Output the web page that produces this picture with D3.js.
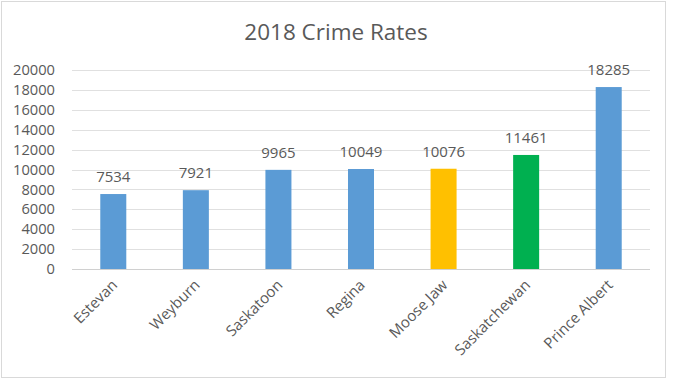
<!DOCTYPE html>
<html>
<head>
<meta charset="utf-8">
<script src="https://cdn.jsdelivr.net/npm/d3@7"></script>
<style>
  body { margin: 0; background: #fff; }
  svg text { font-family: "Open Sans", sans-serif; fill: #595959; }
</style>
</head>
<body>
<div id="chart"></div>
<script>
const cities = ['Estevan', 'Weyburn', 'Saskatoon', 'Regina', 'Moose Jaw', 'Saskatchewan', 'Prince Albert']
const rates = [7534, 7921, 9965, 10049, 10076, 11461, 18285]
const barColors = ['#5B9BD5', '#5B9BD5', '#5B9BD5', '#5B9BD5', '#FFC000', '#00B050', '#5B9BD5']
const yTicks = [0, 2000, 4000, 6000, 8000, 10000, 12000, 14000, 16000, 18000, 20000]

const W = 673, H = 380
const margin = { top: 70, right: 23, bottom: 111, left: 72 }
const width = W - margin.left - margin.right
const height = H - margin.top - margin.bottom

const svg = d3.select('#chart').append('svg')
    .attr('width', W)
    .attr('height', H)

// chart border
svg.append('rect')
    .attr('x', 1.5).attr('y', 1.5)
    .attr('width', 664).attr('height', 376)
    .attr('fill', 'none')
    .attr('stroke', '#d9d9d9')

svg.append('text')
    .attr('x', 336).attr('y', 40)
    .attr('text-anchor', 'middle')
    .style('font-size', '22.5px')
    .text('2018 Crime Rates')

const g = svg.append('g')
    .attr('transform', 'translate(' + margin.left + ',' + margin.top + ')')

const x = d3.scaleBand().domain(cities).range([0, width]).paddingInner(0.685).paddingOuter(0.3425)
const y = d3.scaleLinear().domain([0, 20000]).range([height, 0])

// gridlines
g.selectAll('.grid')
    .data(yTicks)
    .enter().append('line')
    .attr('x1', 0).attr('x2', width)
    .attr('y1', (d) => Math.round(y(d)) + 0.5)
    .attr('y2', (d) => Math.round(y(d)) + 0.5)
    .attr('stroke', (d) => d === 0 ? '#d0d0d0' : '#e0e0e0')

g.selectAll('.ylab')
    .data(yTicks)
    .enter().append('text')
    .attr('x', -17)
    .attr('y', (d) => y(d))
    .attr('dy', '0.35em')
    .attr('text-anchor', 'end')
    .style('font-size', '14.7px')
    .text((d) => d)

g.selectAll('.bar')
    .data(rates)
    .enter().append('rect')
    .attr('x', (d, i) => x(cities[i]))
    .attr('y', (d) => y(d))
    .attr('width', x.bandwidth())
    .attr('height', (d) => height - y(d))
    .attr('fill', (d, i) => barColors[i])

g.selectAll('.val')
    .data(rates)
    .enter().append('text')
    .attr('x', (d, i) => x(cities[i]) + x.bandwidth() / 2)
    .attr('y', (d) => y(d) - 12)
    .attr('text-anchor', 'middle')
    .style('font-size', '15px')
    .text((d) => d)

g.selectAll('.xlab')
    .data(cities)
    .enter().append('text')
    .attr('text-anchor', 'end')
    .attr('transform', (d) => 'translate(' + (x(d) + x.bandwidth() / 2 + 5) + ',' + (height + 17) + ') rotate(-45)')
    .style('font-size', '15px')
    .text((d) => d)
</script>
</body>
</html>
